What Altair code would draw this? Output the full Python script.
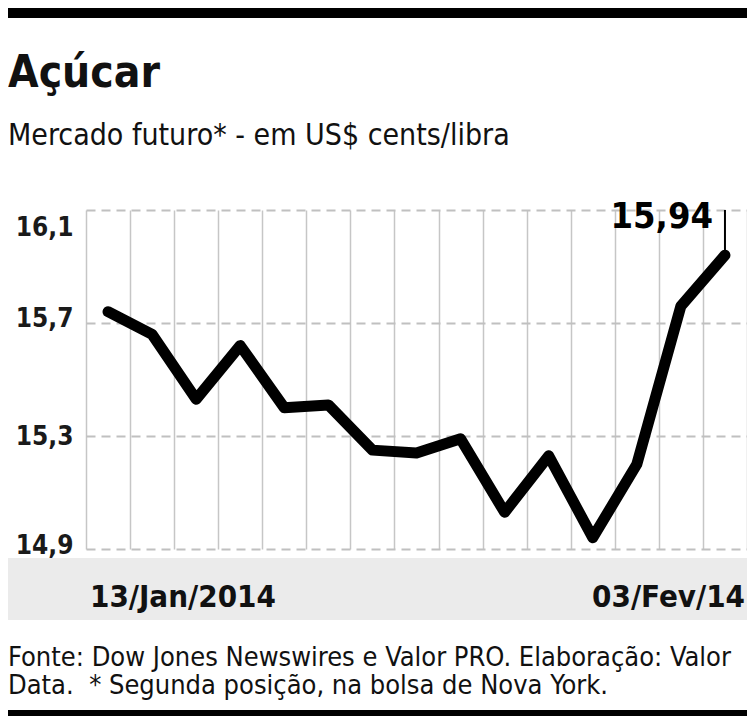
import altair as alt
import pandas as pd

# Açúcar - mercado futuro (segunda posição, ICE Nova York), US$ cents/libra
DATAS = [
    "13/Jan", "14/Jan", "15/Jan", "16/Jan", "17/Jan",
    "21/Jan", "22/Jan", "23/Jan", "24/Jan", "27/Jan",
    "28/Jan", "29/Jan", "30/Jan", "31/Jan", "03/Fev",
]
VALORES = [
    15.74, 15.66, 15.43, 15.62, 15.40,
    15.41, 15.25, 15.24, 15.29, 15.03,
    15.23, 14.94, 15.20, 15.76, 15.94,
]
Y_TICKS = [14.9, 15.3, 15.7, 16.1]
Y_DOMAIN = [14.9, 16.1]

TITULO = "Açúcar"
SUBTITULO = "Mercado futuro* - em US$ cents/libra"
ROTULO_INICIO = "13/Jan/2014"
ROTULO_FIM = "03/Fev/14"
FONTE_1 = "Fonte: Dow Jones Newswires e Valor PRO. Elaboração: Valor"
FONTE_2 = "Data.\u00a0 * Segunda posição, na bolsa de Nova York."

NARROW = "Liberation Sans Narrow, DejaVu Sans Condensed, Roboto Condensed, Arial Narrow, sans-serif"

PLOT_W = 661
PLOT_H = 339
PAD_LEFT = 78
PAD_TOP = 202

df = pd.DataFrame({"data": DATAS, "valor": VALORES})
df["idx"] = range(len(df))
ultimo = df.tail(1).copy()
ultimo["rotulo"] = ultimo["valor"].map(lambda v: f"{v:.2f}".replace(".", ","))

edges = [i - 0.5 for i in range(len(df) + 1)]

x_enc = alt.X(
    "idx:Q",
    scale=alt.Scale(domain=[-0.5, len(df) - 0.5], nice=False, zero=False),
    axis=alt.Axis(
        values=edges, grid=True, gridColor="#c6c6c6", gridWidth=1.5,
        labels=False, ticks=False, domain=False, title=None,
    ),
)
y_enc = alt.Y(
    "valor:Q",
    scale=alt.Scale(domain=Y_DOMAIN, nice=False, zero=False),
    axis=alt.Axis(
        values=Y_TICKS, grid=True, gridDash=[9, 6], gridColor="#c0c0c0", gridWidth=2,
        domain=False, ticks=False, title=None, labelFlush=False,
        labelFont=NARROW, labelFontSize=26, labelFontWeight="bold", labelColor="#1a1a1a",
        labelPadding=13, labelBaseline="middle",
        labelOffset={"expr": "datum.value > 16 ? 17 : (datum.value < 15 ? -4 : (datum.value > 15.5 ? -5 : 0))"},
        labelExpr="replace(format(datum.value, '.1f'), '.', ',')",
    ),
)

linha = (
    alt.Chart(df)
    .mark_line(color="black", strokeWidth=11, strokeCap="round", strokeJoin="round")
    .encode(x=x_enc, y=y_enc)
)

marcador = (
    alt.Chart(ultimo)
    .mark_rule(color="black", strokeWidth=2)
    .encode(x="idx:Q", y="valor:Q", y2=alt.datum(Y_DOMAIN[1]))
)

rotulo = (
    alt.Chart(ultimo)
    .mark_text(align="right", baseline="alphabetic", dx=-12, dy=18,
               font=NARROW, fontSize=36, fontWeight="bold", color="black")
    .encode(x="idx:Q", y=alt.datum(Y_DOMAIN[1]), text="rotulo:N")
)


def faixa(y1, y2, cor):
    return (
        alt.Chart(pd.DataFrame({"k": [0]}))
        .mark_rect(color=cor)
        .encode(x=alt.value(-PAD_LEFT), x2=alt.value(PLOT_W), y=alt.value(y1), y2=alt.value(y2))
    )


def texto(t, x, y, size, weight="normal", align="left"):
    return (
        alt.Chart(pd.DataFrame({"t": [t]}))
        .mark_text(align=align, baseline="alphabetic", font=NARROW,
                   fontSize=size, fontWeight=weight, color="#111111")
        .encode(text="t:N", x=alt.value(x), y=alt.value(y))
    )


chart = (
    alt.layer(
        faixa(-PAD_TOP, -192, "black"),
        faixa(348, 410, "#ebebeb"),
        faixa(500, 506, "black"),
        texto(TITULO, -78, -123, 44, "bold"),
        texto(SUBTITULO, -78, -65, 30),
        texto(ROTULO_INICIO, 4, 397, 31, "bold"),
        texto(ROTULO_FIM, PLOT_W - 2, 397, 31, "bold", "right"),
        texto(FONTE_1, -78, 456, 27),
        texto(FONTE_2, -78, 484, 27),
        linha,
        marcador,
        rotulo,
    )
    .properties(
        width=PLOT_W,
        height=PLOT_H,
        autosize=alt.AutoSizeParams(type="none"),
        padding={"left": PAD_LEFT, "top": PAD_TOP, "right": 0, "bottom": 167},
        background="white",
    )
    .configure_view(stroke=None)
)

chart.save("out.html", embed_options={"renderer": "svg", "actions": False})
